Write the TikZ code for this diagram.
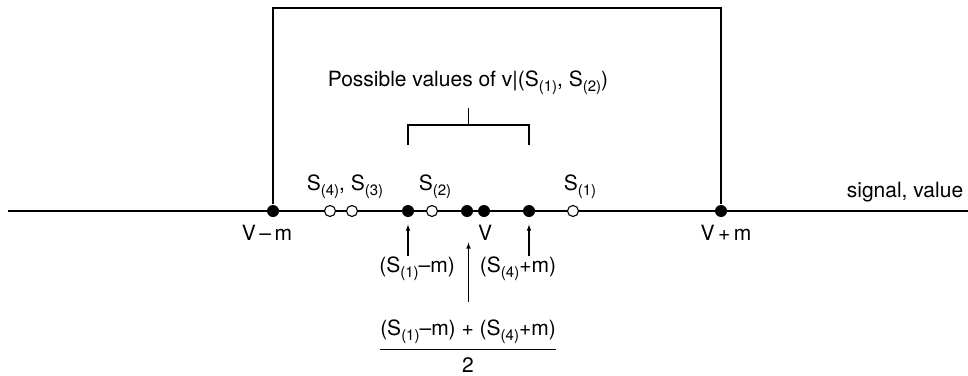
\documentclass[tikz,border=0pt]{standalone}
\usepackage{fontspec}
\setmainfont{TeX Gyre Heros}
\usetikzlibrary{arrows,calc}
\tikzset{point/.style={fill,circle,inner sep=0pt,minimum size=12pt}}
\tikzset{hollow/.style={draw,fill=white,circle,inner sep=0pt,minimum size=11pt}}
\tikzset{txt/.style={anchor=base,inner sep=0pt}}
\newcommand{\Sd}[1]{S\raisebox{-5.5pt}{\fontsize{15}{17}\selectfont(#1)}}

\begin{document}
\begin{tikzpicture}[x=1pt,y=-1pt,line width=1.1pt,font=\fontsize{21}{25}\selectfont]
        \useasboundingbox (0,0) rectangle (968,375);
        \coordinate (left) at (8,211);
        \coordinate (right) at (968,211);
        \draw (left) -- (right);
        \node [point] (vm) at (273,211) {};
        \node [hollow] (s4) at (330,211) {};
        \node [hollow] (s3) at (352,211) {};
        \node [point] (lo) at (408,211) {};
        \node [hollow] (s2) at (432,211) {};
        \node [point] (mid) at (467,211) {};
        \node [point] (v) at (484,211) {};
        \node [point] (hi) at (529,211) {};
        \node [hollow] (s1) at (573,211) {};
        \node [point] (vp) at (721,211) {};
        \coordinate (top) at (0,8);
        \draw (vm) -- (vm |- top) -- (vp |- top) -- (vp);
        \node [txt] (s43lab) at (345,190) {\Sd{4}, \Sd{3}};
        \node [txt] (s2lab) at (435,190) {\Sd{2}};
        \node [txt] (s1lab) at (580,190) {\Sd{1}};
        \node [txt] (axislab) at (905,197) {signal, value};
        \node [txt] (vmlab) at (267,240) {V\,–\,m};
        \node [txt] (vlab) at (485,240) {V};
        \node [txt] (vplab) at (726,240) {V\,+\,m};
        \node [txt] (lolab) at (417,272) {(\Sd{1}–m)};
        \node [txt] (hilab) at (518,272) {(\Sd{4}+m)};
        \node [txt] (numlab) at (468,335) {(\Sd{1}–m) + (\Sd{4}+m)};
        \node [txt] (denlab) at (468,372) {2};
        \draw ($(numlab.south west)+(0,5)$) -- ($(numlab.south east)+(0,5)$);
        \node [txt] (possible) at (468,86) {Possible values of v|(\Sd{1}, \Sd{2})};
        \coordinate (brace) at ($(lo)!0.5!(hi)$);
        \draw (lo |- 0,145) -- (lo |- 0,125) -- (hi |- 0,125) -- (hi |- 0,145);
        \draw (brace |- 0,125) -- (brace |- 0,108);
        \coordinate (lotail) at (408,256);
        \coordinate (hitail) at (529,256);
        \coordinate (midtail) at ($(brace)+(0,91)$);
        \draw [-latex,shorten >=7pt] (lotail) -- (lo);
        \draw [-latex,shorten >=7pt] (hitail) -- (hi);
        \draw [-latex,shorten >=25pt] (midtail) -- (brace |- mid.south);
    \end{tikzpicture}
\end{document}
